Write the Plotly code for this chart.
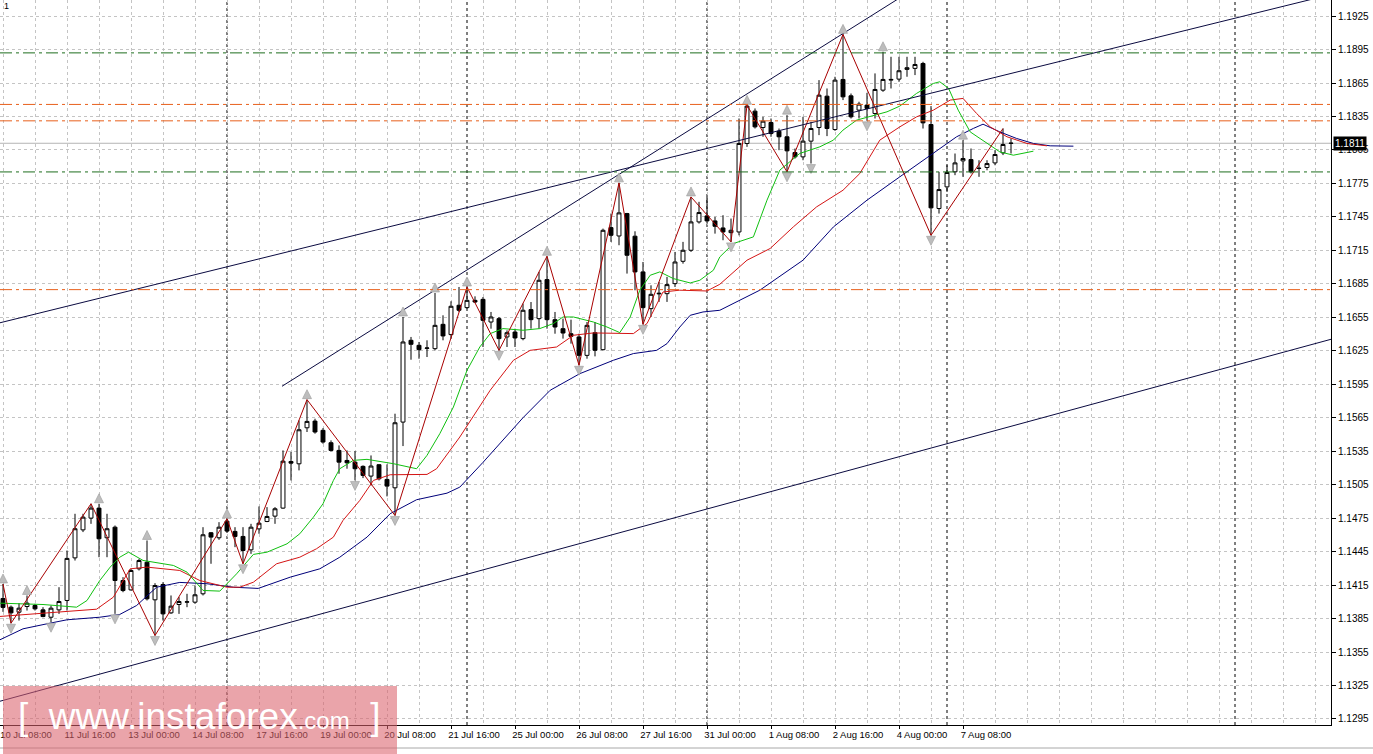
import plotly.graph_objects as go

# ---------------- data (EURUSD H4) ----------------
bar_index = list(range(127))
open_ = [1.14030, 1.13952, 1.13907, 1.13958, 1.13967, 1.13928, 1.13862, 1.13928, 1.14012, 1.14394,
         1.14645, 1.14750, 1.14840, 1.14574, 1.14669, 1.14191, 1.14107, 1.14296, 1.14355, 1.14018,
         1.14155, 1.13901, 1.13976, 1.13997, 1.13997, 1.14072, 1.14619, 1.14574, 1.14723, 1.14631,
         1.14586, 1.14466, 1.14654, 1.14720, 1.14768, 1.14840, 1.15258, 1.15237, 1.15560, 1.15620,
         1.15537, 1.15426, 1.15357, 1.15267, 1.15252, 1.15214, 1.15127, 1.15229, 1.15097, 1.15022,
         1.15611, 1.16344, 1.16299, 1.16272, 1.16269, 1.16487, 1.16395, 1.16658, 1.16637, 1.16702,
         1.16711, 1.16508, 1.16538, 1.16374, 1.16418, 1.16359, 1.16619, 1.16538, 1.16888, 1.16529,
         1.16448, 1.16403, 1.16374, 1.16209, 1.16412, 1.16260, 1.17354, 1.17279, 1.17480, 1.17277,
         1.16957, 1.16628, 1.16760, 1.16762, 1.16852, 1.17052, 1.17151, 1.17405, 1.17459, 1.17414,
         1.17351, 1.17309, 1.17315, 1.18108, 1.18398, 1.18251, 1.18296, 1.18218, 1.18168, 1.18027,
         1.17988, 1.18129, 1.18251, 1.18532, 1.18233, 1.18682, 1.18535, 1.18407, 1.18452, 1.18377,
         1.18586, 1.18676, 1.18685, 1.18772, 1.18781, 1.18825, 1.18278, 1.17525, 1.17719, 1.17854,
         1.17952, 1.17964, 1.17884, 1.17893, 1.17934, 1.18024, 1.18108]
high = [1.14160, 1.13967, 1.13988, 1.14057, 1.13982, 1.13952, 1.13967, 1.14131, 1.14460, 1.14789,
        1.14789, 1.14879, 1.14879, 1.14789, 1.14684, 1.14221, 1.14296, 1.14385, 1.14550, 1.14167,
        1.14176, 1.14057, 1.14042, 1.14072, 1.14146, 1.14669, 1.14625, 1.14714, 1.14744, 1.14669,
        1.14669, 1.14699, 1.14855, 1.14849, 1.14849, 1.15357, 1.15342, 1.15626, 1.15812, 1.15641,
        1.15557, 1.15447, 1.15402, 1.15357, 1.15351, 1.15223, 1.15312, 1.15232, 1.15232, 1.15686,
        1.16553, 1.16374, 1.16329, 1.16344, 1.16768, 1.16568, 1.16694, 1.16822, 1.16822, 1.16738,
        1.16732, 1.16598, 1.16553, 1.16433, 1.16448, 1.16673, 1.16687, 1.16957, 1.17097, 1.16598,
        1.16538, 1.16529, 1.16403, 1.16508, 1.16508, 1.17345, 1.17480, 1.17755, 1.17486, 1.17321,
        1.17046, 1.16837, 1.16867, 1.16912, 1.17136, 1.17226, 1.17629, 1.17585, 1.17629, 1.17450,
        1.17465, 1.17435, 1.18332, 1.18450, 1.18422, 1.18347, 1.18332, 1.18242, 1.18362, 1.18063,
        1.18347, 1.18302, 1.18676, 1.18601, 1.18706, 1.19086, 1.18556, 1.18482, 1.18562, 1.18736,
        1.18930, 1.18885, 1.18885, 1.18885, 1.18885, 1.18840, 1.18443, 1.17854, 1.17913, 1.18018,
        1.18138, 1.18063, 1.17958, 1.17958, 1.18048, 1.18242, 1.18153]
low = [1.13910, 1.13808, 1.13832, 1.13922, 1.13922, 1.13862, 1.13817, 1.13892, 1.13922, 1.14370,
       1.14625, 1.14699, 1.14400, 1.14400, 1.13892, 1.14086, 1.14101, 1.14281, 1.14012, 1.13698,
       1.13832, 1.13892, 1.13892, 1.13952, 1.13982, 1.14057, 1.14341, 1.14556, 1.14625, 1.14490,
       1.14341, 1.14430, 1.14610, 1.14714, 1.14699, 1.14834, 1.15088, 1.15178, 1.15522, 1.15507,
       1.15417, 1.15348, 1.15148, 1.15193, 1.15088, 1.15109, 1.15043, 1.15088, 1.14945, 1.14774,
       1.15396, 1.16170, 1.16179, 1.16194, 1.16254, 1.16344, 1.16359, 1.16598, 1.16628, 1.16678,
       1.16284, 1.16448, 1.16254, 1.16284, 1.16284, 1.16344, 1.16448, 1.16448, 1.16448, 1.16403,
       1.16359, 1.16314, 1.16120, 1.16179, 1.16200, 1.16254, 1.17226, 1.17196, 1.16942, 1.16792,
       1.16487, 1.16553, 1.16688, 1.16688, 1.16822, 1.17031, 1.17136, 1.17390, 1.17390, 1.17300,
       1.17241, 1.17226, 1.17285, 1.18078, 1.18242, 1.18168, 1.18168, 1.18048, 1.17854, 1.17973,
       1.17958, 1.17928, 1.18183, 1.18174, 1.18221, 1.18497, 1.18332, 1.18332, 1.18311, 1.18332,
       1.18571, 1.18601, 1.18661, 1.18706, 1.18721, 1.18242, 1.17285, 1.17480, 1.17674, 1.17824,
       1.17809, 1.17839, 1.17809, 1.17868, 1.17913, 1.18004, 1.18018]
close = [1.13950, 1.13901, 1.13943, 1.13988, 1.13937, 1.13868, 1.13943, 1.14003, 1.14389, 1.14655,
         1.14759, 1.14840, 1.14565, 1.14655, 1.14191, 1.14101, 1.14281, 1.14370, 1.14027, 1.14146,
         1.13892, 1.13961, 1.14003, 1.14000, 1.14063, 1.14601, 1.14580, 1.14669, 1.14634, 1.14586,
         1.14460, 1.14669, 1.14705, 1.14765, 1.14834, 1.15261, 1.15243, 1.15542, 1.15617, 1.15522,
         1.15432, 1.15357, 1.15252, 1.15246, 1.15193, 1.15133, 1.15217, 1.15103, 1.15037, 1.15605,
         1.16329, 1.16308, 1.16260, 1.16275, 1.16478, 1.16383, 1.16649, 1.16613, 1.16702, 1.16687,
         1.16523, 1.16553, 1.16359, 1.16412, 1.16365, 1.16613, 1.16529, 1.16882, 1.16529, 1.16463,
         1.16409, 1.16379, 1.16209, 1.16478, 1.16254, 1.17330, 1.17285, 1.17486, 1.17106, 1.16957,
         1.16637, 1.16756, 1.16765, 1.16843, 1.17046, 1.17151, 1.17405, 1.17489, 1.17414, 1.17366,
         1.17315, 1.17330, 1.18108, 1.18443, 1.18257, 1.18308, 1.18197, 1.18168, 1.18042, 1.17988,
         1.18129, 1.18242, 1.18541, 1.18242, 1.18676, 1.18526, 1.18347, 1.18461, 1.18422, 1.18592,
         1.18682, 1.18682, 1.18760, 1.18787, 1.18816, 1.18293, 1.17531, 1.17695, 1.17848, 1.17934,
         1.17973, 1.17854, 1.17886, 1.17928, 1.18009, 1.18099, 1.18111]

# Alligator lines (bar position, price)
jaw_x = [-0.375, 2.5, 5.9, 8.0, 12.1, 14.6, 16.7, 19.2, 22.1, 25.5, 28.8, 31.9, 35.9, 39.6, 42.1,
         45.5, 48.4, 51.7, 55.5, 57.1, 60.0, 62.5, 65.0, 68.4, 72.1, 76.3, 78.8, 81.7, 83.0, 84.6,
         85.9, 87.5, 89.6, 94.6, 100.0, 103.8, 108.0, 112.1, 116.3, 119.2, 121.3, 122.5, 124.6,
         126.7, 128.8, 130.9, 133.8]
jaw_y = [1.13660, 1.13758, 1.13809, 1.13839, 1.13862, 1.13887, 1.13967, 1.14131, 1.14174, 1.14162,
         1.14131, 1.14120, 1.14221, 1.14296, 1.14400, 1.14580, 1.14790, 1.14915, 1.14974, 1.15028,
         1.15250, 1.15450, 1.15650, 1.15896, 1.16045, 1.16165, 1.16225, 1.16254, 1.16314, 1.16463,
         1.16568, 1.16598, 1.16613, 1.16793, 1.17062, 1.17360, 1.17600, 1.17809, 1.18019, 1.18168,
         1.18243, 1.18281, 1.18212, 1.18153, 1.18108, 1.18087, 1.18084]
teeth_x = [-0.375, 11.7, 13.8, 15.9, 18.0, 22.1, 24.6, 28.0, 29.6, 31.3, 34.2, 37.1, 39.2, 41.3,
           42.5, 44.6, 46.3, 48.4, 53.0, 54.2, 57.1, 60.9, 63.8, 65.9, 69.2, 71.3, 73.8, 78.8, 80.5,
           82.5, 84.6, 88.0, 89.6, 93.0, 95.9, 98.8, 101.7, 105.0, 107.1, 109.6, 112.1, 114.2,
           116.3, 118.4, 120.0, 121.7, 123.4, 125.5, 128.0, 130.5]
teeth_y = [1.13869, 1.13934, 1.14042, 1.14296, 1.14311, 1.14281, 1.14191, 1.14131, 1.14131, 1.14176,
           1.14341, 1.14400, 1.14476, 1.14580, 1.14730, 1.14909, 1.15088, 1.15139, 1.15142, 1.15193,
           1.15477, 1.15896, 1.16165, 1.16254, 1.16284, 1.16389, 1.16410, 1.16404, 1.16494, 1.16777,
           1.16793, 1.16786, 1.16846, 1.17062, 1.17167, 1.17361, 1.17540, 1.17689, 1.17839, 1.18138,
           1.18257, 1.18347, 1.18407, 1.18497, 1.18512, 1.18377, 1.18257, 1.18168, 1.18108, 1.18087]
lips_x = [-0.375, 5.0, 9.2, 10.5, 12.1, 13.4, 14.6, 15.7, 17.5, 21.3, 23.0, 25.0, 27.1, 29.2, 31.3,
          33.0, 35.5, 37.1, 38.8, 40.0, 41.3, 42.1, 43.8, 45.5, 48.8, 51.7, 53.0, 54.6, 56.3, 58.0,
          59.6, 60.9, 62.5, 65.0, 67.1, 68.8, 70.0, 71.3, 73.8, 75.5, 77.1, 78.4, 79.6, 80.9, 82.1,
          83.8, 85.9, 87.1, 88.8, 89.6, 91.3, 93.8, 95.5, 97.1, 99.6, 102.1, 103.8, 105.0, 106.7,
          108.8, 110.5, 112.1, 114.2, 116.3, 117.1, 118.2, 119.4, 120.9, 123.0, 124.6, 126.3, 128.8]
lips_y = [1.13988, 1.13976, 1.13952, 1.14012, 1.14191, 1.14311, 1.14400, 1.14445, 1.14371, 1.14326,
          1.14266, 1.14102, 1.14096, 1.14251, 1.14425, 1.14445, 1.14520, 1.14610, 1.14759, 1.14879,
          1.15088, 1.15193, 1.15268, 1.15277, 1.15238, 1.15193, 1.15313, 1.15507, 1.15746, 1.16075,
          1.16284, 1.16404, 1.16449, 1.16434, 1.16449, 1.16494, 1.16553, 1.16553, 1.16508, 1.16463,
          1.16413, 1.16553, 1.16793, 1.16927, 1.16957, 1.16897, 1.16858, 1.16882, 1.16972, 1.17091,
          1.17211, 1.17271, 1.17600, 1.17869, 1.18019, 1.18078, 1.18138, 1.18228, 1.18317, 1.18362,
          1.18392, 1.18443, 1.18557, 1.18646, 1.18661, 1.18602, 1.18407, 1.18212, 1.18108, 1.18033,
          1.18003, 1.18039]

# ZigZag pivots
zz_x = [0, 1, 11, 19, 28, 30, 38, 49, 58, 62, 68, 72, 77, 80, 86, 91, 93, 98, 105, 116, 125]
zz_y = [1.14160, 1.13808, 1.14879, 1.13698, 1.14744, 1.14341, 1.15812, 1.14774, 1.16822, 1.16254,
        1.17097, 1.16120, 1.17755, 1.16487, 1.17629, 1.17226, 1.18450, 1.17854, 1.19086, 1.17285,
        1.18242]

# Fractals (bar indices)
fractal_up_bars = [0, 3, 12, 18, 28, 38, 50, 54, 58, 68, 77, 86, 93, 98, 105, 110, 120]
fractal_down_bars = [1, 6, 14, 19, 30, 44, 49, 62, 72, 80, 91, 98, 101, 108, 116]

# Trend lines (start bar, start price, end bar, end price)
trend_lines = [
    (-0.375, 1.13109, 166.0, 1.16353),
    (-0.375, 1.16501, 166.0, 1.19443),
    (34.875, 1.15932, 113.4, 1.19472),
]

# Horizontal levels
green_levels = [1.18920, 1.17853]
orange_levels = [1.18458, 1.18311, 1.16798]
current_price = 1.1811

# Week separators (bar indices)
separator_bars = [28, 58, 88, 118, 154]

# Time axis labels
x_label_bars = [0, 8, 16, 24, 32, 40, 48, 56, 64, 72, 80, 88, 96, 104, 112, 120]
x_label_text = ["10 Jul 08:00", "11 Jul 16:00", "13 Jul 00:00", "14 Jul 08:00", "17 Jul 16:00",
                "19 Jul 00:00", "20 Jul 08:00", "21 Jul 16:00", "25 Jul 00:00", "26 Jul 08:00",
                "27 Jul 16:00", "31 Jul 00:00", "1 Aug 08:00", "2 Aug 16:00", "4 Aug 00:00",
                "7 Aug 08:00"]

# ---------------- figure ----------------
Y_MIN, Y_MAX = 1.12896, 1.19394
X_MIN, X_MAX = -0.375, 166.0
PLOT_W, PLOT_H = 1331, 725
price_per_px = (Y_MAX - Y_MIN) / PLOT_H
FONT = "Liberation Sans"

fig = go.Figure()

fig.add_trace(go.Candlestick(
    x=bar_index, open=open_, high=high, low=low, close=close,
    increasing=dict(line=dict(color="black", width=1), fillcolor="white"),
    decreasing=dict(line=dict(color="black", width=1), fillcolor="black"),
    whiskerwidth=0, showlegend=False, hoverinfo="skip"))

fig.add_trace(go.Scatter(x=jaw_x, y=jaw_y, mode="lines",
                         line=dict(color="#00007A", width=1), showlegend=False, hoverinfo="skip"))
fig.add_trace(go.Scatter(x=teeth_x, y=teeth_y, mode="lines",
                         line=dict(color="#D41414", width=1), showlegend=False, hoverinfo="skip"))
fig.add_trace(go.Scatter(x=lips_x, y=lips_y, mode="lines",
                         line=dict(color="#10C010", width=1), showlegend=False, hoverinfo="skip"))
fig.add_trace(go.Scatter(x=zz_x, y=zz_y, mode="lines",
                         line=dict(color="#A80000", width=1), showlegend=False, hoverinfo="skip"))

for (x0, y0, x1, y1) in trend_lines:
    fig.add_trace(go.Scatter(x=[x0, x1], y=[y0, y1], mode="lines",
                             line=dict(color="#0A0A40", width=1), showlegend=False,
                             hoverinfo="skip"))

off = 10 * price_per_px
fig.add_trace(go.Scatter(
    x=fractal_up_bars, y=[high[i] + off for i in fractal_up_bars], mode="markers",
    marker=dict(symbol="arrow-up", size=9, color="#BDBDBD", line=dict(color="#9A9A9A", width=0.6)),
    showlegend=False, hoverinfo="skip"))
fig.add_trace(go.Scatter(
    x=fractal_down_bars, y=[low[i] - off for i in fractal_down_bars], mode="markers",
    marker=dict(symbol="arrow-down", size=9, color="#BDBDBD", line=dict(color="#9A9A9A", width=0.6)),
    showlegend=False, hoverinfo="skip"))

shapes = []
for b in separator_bars:
    shapes.append(dict(type="line", xref="x", yref="paper", x0=b, x1=b, y0=0, y1=1,
                       line=dict(color="black", width=1, dash="3px,3px"), layer="below"))
for lv in green_levels:
    shapes.append(dict(type="line", xref="paper", yref="y", x0=0, x1=1, y0=lv, y1=lv,
                       line=dict(color="#1E6E1E", width=1, dash="12px,4px,3px,4px")))
for lv in orange_levels:
    shapes.append(dict(type="line", xref="paper", yref="y", x0=0, x1=1, y0=lv, y1=lv,
                       line=dict(color="#E8601C", width=1, dash="12px,4px,3px,4px")))
shapes.append(dict(type="line", xref="paper", yref="y", x0=0, x1=1, y0=current_price,
                   y1=current_price, line=dict(color="#B4B4B4", width=1), layer="below"))
# window frame line under the time scale
shapes.append(dict(type="line", xref="paper", yref="paper", x0=0, x1=1.04, y0=-23 / PLOT_H,
                   y1=-23 / PLOT_H, line=dict(color="#A8A8A8", width=1)))
# watermark panel (drawn over the time labels)
shapes.append(dict(type="rect", xref="paper", yref="paper",
                   x0=3 / PLOT_W, x1=397 / PLOT_W, y0=(PLOT_H - 754) / PLOT_H,
                   y1=(PLOT_H - 686) / PLOT_H, line=dict(width=0),
                   fillcolor="rgba(218,98,108,0.58)", layer="above"))

annotations = []
annotations.append(dict(x=1, xref="paper", y=current_price, yref="y", text="1.1811",
                        showarrow=False, xanchor="left", yanchor="middle", xshift=2,
                        bgcolor="black", borderpad=1,
                        font=dict(family=FONT, size=10, color="white")))
annotations.append(dict(x=0, xref="paper", y=1, yref="paper", text="1", showarrow=False,
                        xanchor="left", yanchor="top", xshift=2, yshift=1,
                        font=dict(family=FONT, size=9, color="black")))
annotations.append(dict(
    x=200 / PLOT_W, xref="paper", y=(PLOT_H - 716) / PLOT_H, yref="paper",
    xanchor="center", yanchor="middle", showarrow=False,
    text="[\u00a0\u00a0www.instaforex<span style='font-size:24px'>.com</span>\u00a0\u00a0]",
    font=dict(family=FONT, size=37, color="white")))

fig.update_layout(
    width=1373, height=754,
    margin=dict(l=0, r=42, t=0, b=29),
    paper_bgcolor="white", plot_bgcolor="white",
    font=dict(family=FONT, size=10, color="black"),
    showlegend=False,
    shapes=shapes, annotations=annotations,
    xaxis=dict(range=[X_MIN, X_MAX], rangeslider=dict(visible=False),
               tickmode="array", tickvals=x_label_bars, ticktext=x_label_text,
               ticks="outside", ticklen=3, tickcolor="black",
               ticklabelshift=23, ticklabelstandoff=-2,
               tickfont=dict(family=FONT, size=9.5, color="black"),
               showgrid=False,
               minor=dict(tick0=0, dtick=4, showgrid=True, gridcolor="#C4C4C4",
                          griddash="3px,3px", gridwidth=1, ticks=""),
               showline=True, linecolor="black", linewidth=1, zeroline=False),
    yaxis=dict(range=[Y_MIN, Y_MAX], side="right", tick0=1.1295, dtick=0.003,
               tickformat=".4f", ticks="outside", ticklen=4, tickcolor="black",
               showgrid=True, gridcolor="#C4C4C4", griddash="3px,3px", gridwidth=1,
               showline=True, linecolor="black", linewidth=1, zeroline=False,
               tickfont=dict(family=FONT, size=10, color="black")),
)

fig.write_html("out.html", config={"displayModeBar": False},
               post_script="document.body.style.margin='0px';document.body.style.overflow='hidden';")
